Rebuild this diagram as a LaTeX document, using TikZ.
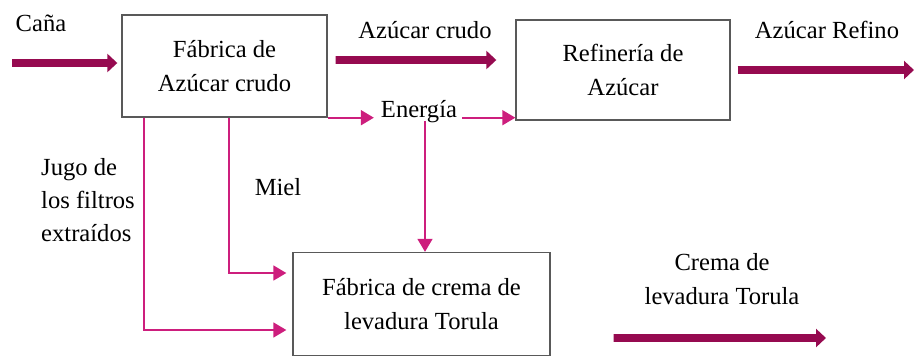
\documentclass[tikz,border=0pt]{standalone}
\usepackage{fontspec}
\setmainfont{Liberation Serif}
\usetikzlibrary{arrows.meta}
\definecolor{gruesa}{RGB}{150,10,80}
\definecolor{fina}{RGB}{205,30,125}

\begin{document}
\begin{tikzpicture}[x=0.02cm,y=-0.02cm,
                    font=\fontsize{14}{19}\selectfont,
                    caja/.style={draw=black!65,line width=0.8pt,align=center,inner sep=0pt},
                    flujo/.style={draw=gruesa,line width=4.5pt,-{Triangle[length=0.2cm,width=0.36cm]}},
                    linea/.style={draw=fina,line width=1pt,-{Triangle[length=0.26cm,width=0.3cm]}},
                    rotulo/.style={align=center,inner sep=1pt}]
  \useasboundingbox (0,0) rectangle (914,356);

  \node[caja,minimum width=4.1cm,minimum height=2.04cm] (azucar) at (224.5,66) {Fábrica de\\Azúcar crudo};
  \node[caja,minimum width=4.28cm,minimum height=2cm] (refineria) at (623,70) {Refinería de\\Azúcar};
  \node[caja,minimum width=5.14cm,minimum height=2.06cm] (torula) at (421.5,304) {Fábrica de crema de\\levadura Torula};

  \node[rotulo] (cana) at (41,23) {Caña};
  \node[rotulo] (crudo) at (425,30) {Azúcar crudo};
  \node[rotulo] (refino) at (827,30) {Azúcar Refino};
  \node[rotulo] (energia) at (419,112) {Energía};
  \node[rotulo] (miel) at (278,187) {Miel};
  \node[rotulo,align=left] (jugo) at (88,200) {Jugo de\\los filtros\\extraídos};
  \node[rotulo] (crema) at (722,279) {Crema de\\levadura Torula};

  \coordinate (entrada) at (12,63);
  \coordinate (salida) at (914,70);
  \coordinate (final) at (826,338);

  % flujos principales
  \draw[flujo] (entrada) -- ([xshift=-0.08cm]entrada -| azucar.west);
  \draw[flujo] ([xshift=0.16cm,yshift=0.12cm]azucar.east) -- ([xshift=-0.38cm,yshift=0.2cm]refineria.west);
  \draw[flujo] ([xshift=0.14cm]refineria.east) -- (salida);
  \draw[flujo] ([xshift=1.26cm,yshift=-0.68cm]torula.east) -- (final);

  % energia
  \draw[linea] (azucar.south east) -- ([xshift=-0.1cm]energia.west |- azucar.south east);
  \draw[linea] ([xshift=0.06cm,yshift=0.06cm]energia.east |- refineria.south west) -- ([yshift=0.06cm]refineria.south west);
  \draw[linea] ([xshift=0.12cm,yshift=0.08cm]energia.south) -- ([xshift=0.12cm]energia.south |- torula.north);

  % miel y jugo
  \draw[linea] ([xshift=0.09cm]azucar.south) |- ([xshift=-0.12cm,yshift=0.62cm]torula.west);
  \draw[linea] ([xshift=0.46cm]azucar.south west) |- ([xshift=-0.12cm,yshift=-0.52cm]torula.west);
\end{tikzpicture}
\end{document}
